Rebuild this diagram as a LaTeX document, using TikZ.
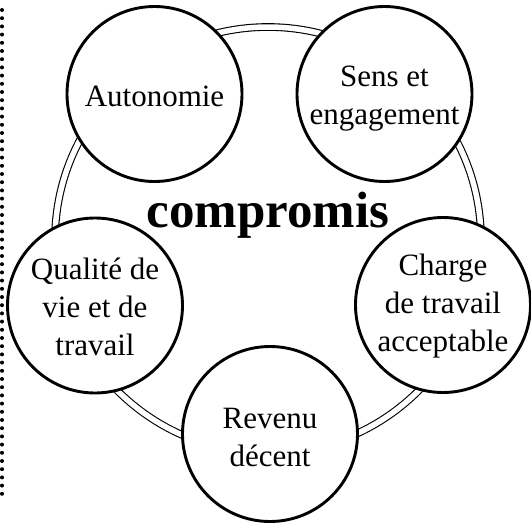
\documentclass[tikz,border=0pt]{standalone}
\usepackage{fontspec}
\setmainfont{Liberation Serif}
\begin{document}
\begin{tikzpicture}[x=1pt,y=-1pt,
  item/.style={circle, draw=black, line width=2.9pt, fill=white, minimum size=175pt, inner sep=0pt},
  txt/.style={align=center, inner sep=0pt, font=\fontsize{31}{38}\selectfont},
  ring/.style={draw=black, line width=1.1pt, double=white, double distance=5.5pt},
  dots/.style={line width=4pt, line cap=round, dash pattern=on 0pt off 8.2pt}]
\useasboundingbox (0,0) rectangle (531,525);
\coordinate (c) at (268,240);
\draw[ring] (c) circle[radius=213pt];
\coordinate (d1) at (2,10);
\coordinate (d2) at (2,498);
\draw[dots] (d1) -- (d2);
\node[item] (auto) at (154.5,94) {};
\node[item] (sens) at (384.5,94) {};
\node[item] (charge) at (443,305) {};
\node[item] (rev) at (270,434) {};
\node[item] (qual) at (95,305.5) {};
\node[txt, yshift=-2pt] (tauto) at (auto.center) {Autonomie};
\node[txt, yshift=-5pt] (tsens) at (sens.center) {Sens et\\engagement};
\node[txt, yshift=-1pt] (tcharge) at (charge.center) {Charge\\de travail\\acceptable};
\node[txt, yshift=-3pt] (trev) at (rev.center) {Revenu\\décent};
\node[txt, yshift=-1pt] (tqual) at (qual.center) {Qualité de\\vie et de\\travail};
\node[font=\bfseries\fontsize{51}{60}\selectfont, anchor=base] (comp) at (268,227) {compromis};
\end{tikzpicture}
\end{document}
